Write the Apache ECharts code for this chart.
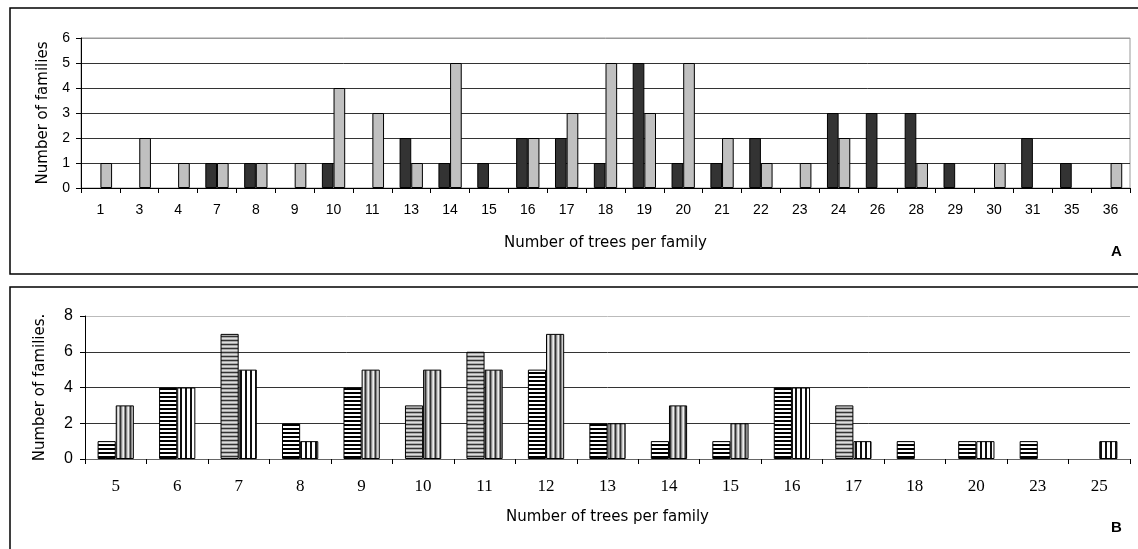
<!DOCTYPE html>
<html>
<head>
<meta charset="utf-8">
<script src="https://cdn.jsdelivr.net/npm/echarts@6/dist/echarts.min.js"></script>
<style>
html,body{margin:0;padding:0;background:#fff;}
#main{width:1138px;height:549px;}
</style>
</head>
<body>
<div id="main"></div>
<script>
// ---- Panel A data ----
const catsA = ['1','3','4','7','8','9','10','11','13','14','15','16','17','18','19','20','21','22','23','24','26','28','29','30','31','35','36'];
const darkA  = [0,0,0,1,1,0,1,0,2,1,1,2,2,1,5,1,1,2,0,3,3,3,1,0,2,1,0];
const lightA = [1,2,1,1,1,1,4,3,1,5,0,2,3,5,3,5,2,1,1,2,0,1,0,1,0,0,1];
const yTicksA = [0,1,2,3,4,5,6];

// ---- Panel B data ----
const catsB = ['5','6','7','8','9','10','11','12','13','14','15','16','17','18','20','23','25'];
const horizB = [1,4,7,2,4,3,6,5,2,1,1,4,3,1,1,1,0];
const vertB  = [3,4,5,1,5,5,5,7,2,3,2,4,1,0,1,0,1];
const yTicksB = [0,2,4,6,8];
// categories whose bars were printed with the greyish stripe screen
const greyHorizCats = ['7','10','11','17'];
const greyVertCats = ['5','9','10','11','12','13','14','15'];

function makePattern(colors, vertical) {
  const c = document.createElement('canvas');
  const n = colors.length;
  c.width = vertical ? n : 1;
  c.height = vertical ? 1 : n;
  const ctx = c.getContext('2d');
  colors.forEach((col, i) => {
    ctx.fillStyle = col;
    if (vertical) ctx.fillRect(i, 0, 1, 1); else ctx.fillRect(0, i, 1, 1);
  });
  return { image: c, repeat: 'repeat' };
}
const patHBlack = makePattern(['#000','#000','#fff','#fff'], false);
const patHGrey  = makePattern(['#333','#aaa','#ddd','#aaa'], false);
const patVBlack = makePattern(['#111','#111','#fff','#fff','#fff'], true);
const patVGrey  = makePattern(['#333','#888','#ccc','#eee','#888'], true);

const nz = v => (v === 0 ? null : v);

const chart = echarts.init(document.getElementById('main'), null, { renderer: 'canvas' });

const sans = 'Liberation Sans, Arial, sans-serif';
const titleFont = 'DejaVu Sans, sans-serif';

const option = {
  animation: false,
  backgroundColor: '#fff',
  graphic: [
    { type: 'rect', shape: { x: 10, y: 8, width: 1140, height: 266 }, style: { fill: 'none', stroke: '#000', lineWidth: 1.5 }, silent: true },
    { type: 'rect', shape: { x: 10, y: 287, width: 1140, height: 280 }, style: { fill: 'none', stroke: '#000', lineWidth: 1.5 }, silent: true },
    { type: 'text', left: 1111, top: 244, style: { text: 'A', font: 'bold 15px ' + sans, fill: '#000' } },
    { type: 'text', left: 1111, top: 520, style: { text: 'B', font: 'bold 15px ' + sans, fill: '#000' } }
  ],
  grid: [
    { left: 81, right: 8, top: 38, bottom: 361, show: true, borderColor: '#999', borderWidth: 1, backgroundColor: 'transparent' },
    { left: 85, right: 8, top: 316, bottom: 90 }
  ],
  xAxis: [
    {
      gridIndex: 0, type: 'category', data: catsA,
      axisLine: { lineStyle: { color: '#000', width: 1 } },
      axisTick: { show: true, length: 5, lineStyle: { color: '#000' } },
      axisLabel: { color: '#000', fontFamily: sans, fontSize: 14, margin: 15, interval: 0 },
      name: 'Number of trees per family', nameLocation: 'middle', nameGap: 48,
      nameTextStyle: { color: '#000', fontFamily: titleFont, fontSize: 15 }
    },
    {
      gridIndex: 1, type: 'category', data: catsB,
      axisLine: { lineStyle: { color: '#666', width: 1 } },
      axisTick: { show: true, length: 5, lineStyle: { color: '#000' } },
      axisLabel: { color: '#000', fontFamily: 'Liberation Serif, Times New Roman, serif', fontSize: 17, margin: 19, interval: 0 },
      name: 'Number of trees per family', nameLocation: 'middle', nameGap: 51,
      nameTextStyle: { color: '#000', fontFamily: titleFont, fontSize: 15 }
    }
  ],
  yAxis: [
    {
      gridIndex: 0, type: 'value', min: yTicksA[0], max: yTicksA[yTicksA.length - 1], interval: 1,
      axisLine: { show: true, lineStyle: { color: '#000' } },
      axisTick: { show: true, length: 5, lineStyle: { color: '#000' } },
      axisLabel: { color: '#000', fontFamily: sans, fontSize: 14, margin: 11 },
      splitLine: { show: true, lineStyle: { color: ['#333','#333','#333','#333','#333','#333','#999'], width: 1 } },
      name: 'Number of families', nameLocation: 'middle', nameGap: 30,
      nameTextStyle: { color: '#000', fontFamily: titleFont, fontSize: 15 }
    },
    {
      gridIndex: 1, type: 'value', min: yTicksB[0], max: yTicksB[yTicksB.length - 1], interval: 2,
      axisLine: { show: true, lineStyle: { color: '#000' } },
      axisTick: { show: true, length: 5, lineStyle: { color: '#000' } },
      axisLabel: { color: '#000', fontFamily: sans, fontSize: 16, margin: 12 },
      splitLine: { show: true, lineStyle: { color: ['#333','#333','#333','#333','#bbb'], width: 1 } },
      name: 'Number of families.', nameLocation: 'middle', nameGap: 37,
      nameTextStyle: { color: '#000', fontFamily: titleFont, fontSize: 15 }
    }
  ],
  series: [
    {
      type: 'bar', xAxisIndex: 0, yAxisIndex: 0, data: darkA.map(nz),
      barGap: '0%', barCategoryGap: '40%',
      itemStyle: { color: '#333333', borderColor: '#000', borderWidth: 1 }
    },
    {
      type: 'bar', xAxisIndex: 0, yAxisIndex: 0, data: lightA.map(nz),
      barGap: '0%', barCategoryGap: '40%',
      itemStyle: { color: '#c0c0c0', borderColor: '#000', borderWidth: 1 }
    },
    {
      type: 'bar', xAxisIndex: 1, yAxisIndex: 1,
      data: horizB.map((v, i) => ({ value: nz(v), itemStyle: { color: greyHorizCats.includes(catsB[i]) ? patHGrey : patHBlack } })),
      barGap: '0%', barCategoryGap: '41%',
      itemStyle: { borderColor: '#000', borderWidth: 1 }
    },
    {
      type: 'bar', xAxisIndex: 1, yAxisIndex: 1,
      data: vertB.map((v, i) => ({ value: nz(v), itemStyle: { color: greyVertCats.includes(catsB[i]) ? patVGrey : patVBlack } })),
      barGap: '0%', barCategoryGap: '41%',
      itemStyle: { borderColor: '#000', borderWidth: 1 }
    }
  ]
};
chart.setOption(option);
</script>
</body>
</html>
